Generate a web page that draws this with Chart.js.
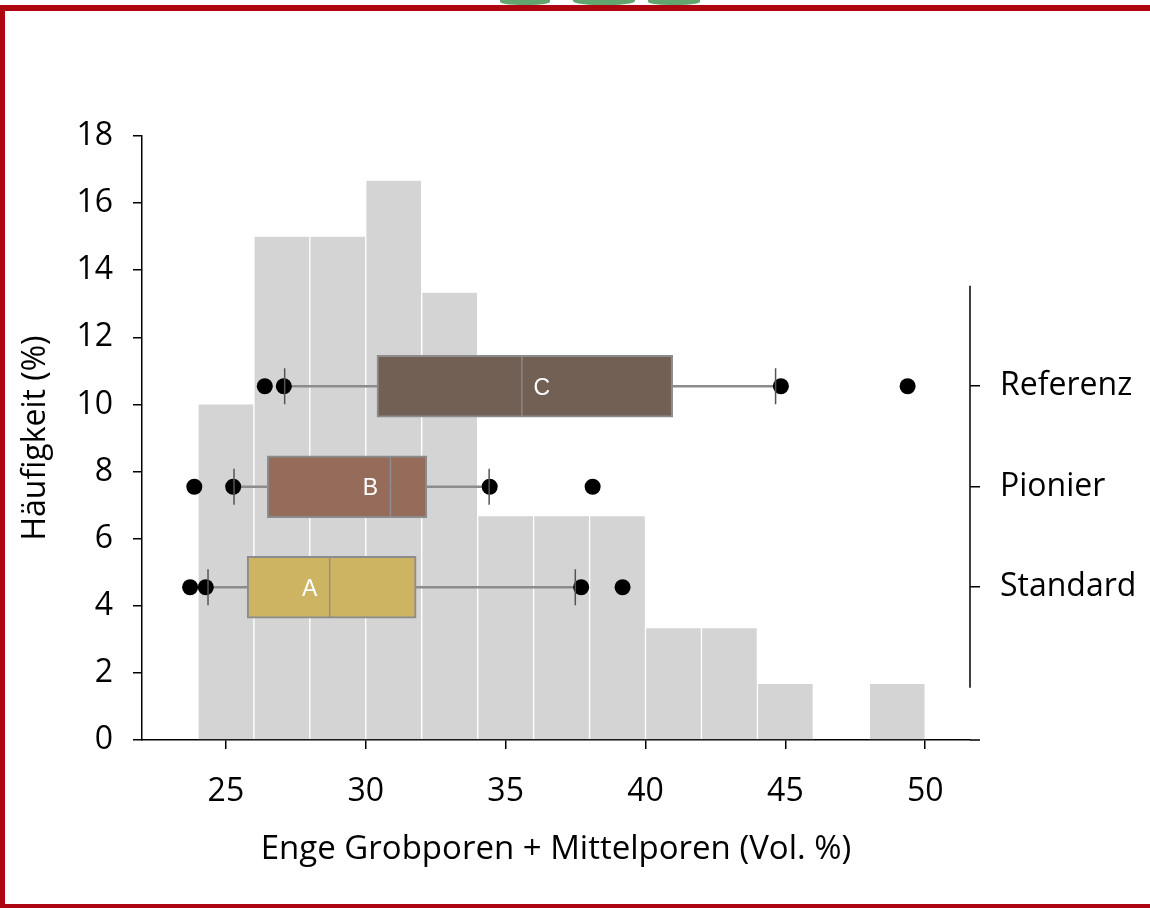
<!DOCTYPE html>
<html>
<head>
<meta charset="utf-8">
<title>Häufigkeit Poren</title>
<script src="https://cdn.jsdelivr.net/npm/chart.js@4.4.1/dist/chart.umd.min.js"></script>
<style>
    html, body { margin: 0; padding: 0; background: #fff; }
    #wrap { position: relative; width: 1150px; height: 908px; overflow: hidden; }
    #poreChart { position: absolute; left: 0; top: 0; }
    .frame { position: absolute; background: #ad0611; pointer-events: none; }
    .leaf { position: absolute; background: #63a56f; border-radius: 40%; pointer-events: none; }
</style>
</head>
<body>
<div id="wrap">
    <canvas id="poreChart" width="1150" height="908"></canvas>
    <!-- bits of the picture that sit above the red frame -->
    <div class="leaf" style="left:500px; top:-4px; width:50px; height:9px;"></div>
    <div class="leaf" style="left:573px; top:-5px; width:62px; height:10px;"></div>
    <div class="leaf" style="left:648px; top:-4px; width:52px; height:9px;"></div>
    <!-- red frame -->
    <div class="frame" style="left:0; top:5px; width:1150px; height:6px;"></div>
    <div class="frame" style="left:0; top:5px; width:5px; height:903px;"></div>
    <div class="frame" style="left:0; top:904px; width:1150px; height:4px;"></div>
</div>

<script>
// ============================================
// DATA
// ============================================

// Histogram: bin centres (2 %-wide bins) and relative frequency (%)
const binCenters = [25, 27, 29, 31, 33, 35, 37, 39, 41, 43, 45, 47, 49];
const binFreq = [10, 15, 15, 16.67, 13.33, 6.67, 6.67, 6.67, 3.33, 3.33, 1.67, 0, 1.67];

// Boxplots, bottom to top
const groups = ['Standard', 'Pionier', 'Referenz'];
const groupLetters = ['A', 'B', 'C'];
const whiskerLow = [24.36, 25.29, 27.1];
const q1 = [25.76, 26.48, 30.40];
const median = [28.71, 30.88, 35.58];
const q3 = [31.80, 32.18, 40.97];
const whiskerHigh = [37.49, 34.41, 44.65];
const outliers = [
    [23.72, 24.28, 37.70, 39.18],
    [23.87, 25.26, 34.43, 38.11],
    [26.39, 27.07, 44.84, 49.37]
];

const xTicks = [25, 30, 35, 40, 45, 50];
const yTicks = [0, 2, 4, 6, 8, 10, 12, 14, 16, 18];

// ============================================
// STYLE
// ============================================

const FONT = '"Open Sans", "Noto Sans", sans-serif';
const boxColors = ['#ccb462', '#956c5a', '#736055'];
const boxEdge = '#8c8c8c';
const letterSide = [-1, -1, 1]; // letter left or right of the median

// group letters inside the boxes + the short group axis line
const boxDecor = {
    id: 'boxDecor',
    afterDraw(chart) {
        const ctx = chart.ctx;
        const xs = chart.scales.xBox;
        const ys = chart.scales.yBox;
        const area = chart.chartArea;

        ctx.save();
        ctx.strokeStyle = '#000';
        ctx.lineWidth = 1.5;
        ctx.beginPath();
        ctx.moveTo(ys.left, ys.getPixelForValue(0));
        ctx.lineTo(ys.left, ys.getPixelForValue(groups.length + 1));
        // x axis runs a little past the group axis
        ctx.moveTo(area.right, area.bottom);
        ctx.lineTo(area.right + 10, area.bottom);
        ctx.stroke();

        ctx.fillStyle = '#fff';
        ctx.font = '23px "Liberation Sans", Arial, sans-serif';
        ctx.textAlign = 'center';
        ctx.textBaseline = 'middle';
        groupLetters.forEach((letter, i) => {
            const px = xs.getPixelForValue(median[i]) + letterSide[i] * 20;
            const py = ys.getPixelForValue(i + 1) + 2;
            ctx.fillText(letter, px, py);
        });
        ctx.restore();
    }
};

const axisGrid = (len) => ({
    display: true,
    offset: false,
    drawOnChartArea: false,
    drawTicks: true,
    tickLength: len,
    color: '#000',
    lineWidth: 1.5
});

// ============================================
// CHART
// ============================================

function initPoreChart() {
    const ctx = document.getElementById('poreChart');
    if (!ctx) return;

    const xMin = 22, xMax = 51.6;

    const histData = binCenters.map((c, i) => ({ x: c, y: binFreq[i] }));
    const whiskerData = groups.map((g, i) => ({ y: i + 1, x: [whiskerLow[i], whiskerHigh[i]] }));
    const lowerHalf = groups.map((g, i) => ({ y: i + 1, x: [q1[i], median[i]] }));
    const upperHalf = groups.map((g, i) => ({ y: i + 1, x: [median[i], q3[i]] }));
    const capData = [];
    groups.forEach((g, i) => {
        capData.push({ x: whiskerLow[i], y: i + 1 });
        capData.push({ x: whiskerHigh[i], y: i + 1 });
    });
    const outlierData = [];
    outliers.forEach((vals, i) => vals.forEach(v => outlierData.push({ x: v, y: i + 1 })));

    new Chart(ctx, {
        type: 'bar',
        data: {
            datasets: [
                {
                    label: 'Häufigkeit',
                    data: histData,
                    xAxisID: 'x',
                    yAxisID: 'y',
                    backgroundColor: '#d4d4d4',
                    borderColor: '#ffffff',
                    borderWidth: { left: 1, right: 1, top: 0, bottom: 0 },
                    borderSkipped: false,
                    barPercentage: 1,
                    categoryPercentage: 1,
                    grouped: false,
                    order: 5
                },
                {
                    label: 'Whisker',
                    data: whiskerData,
                    indexAxis: 'y',
                    xAxisID: 'xBox',
                    yAxisID: 'yBox',
                    backgroundColor: boxEdge,
                    borderWidth: 0,
                    barThickness: 2,
                    grouped: false,
                    order: 4
                },
                {
                    label: 'Q1-Median',
                    data: lowerHalf,
                    indexAxis: 'y',
                    xAxisID: 'xBox',
                    yAxisID: 'yBox',
                    backgroundColor: boxColors,
                    borderColor: boxEdge,
                    borderWidth: { left: 2, right: 1, top: 2, bottom: 2 },
                    borderSkipped: false,
                    barThickness: 62,
                    grouped: false,
                    order: 3
                },
                {
                    label: 'Median-Q3',
                    data: upperHalf,
                    indexAxis: 'y',
                    xAxisID: 'xBox',
                    yAxisID: 'yBox',
                    backgroundColor: boxColors,
                    borderColor: boxEdge,
                    borderWidth: { left: 1, right: 2, top: 2, bottom: 2 },
                    borderSkipped: false,
                    barThickness: 62,
                    grouped: false,
                    order: 3
                },
                {
                    type: 'scatter',
                    label: 'Werte',
                    data: outlierData,
                    xAxisID: 'xBox',
                    yAxisID: 'yBox',
                    pointRadius: 8,
                    pointBackgroundColor: '#000',
                    pointBorderWidth: 0,
                    order: 2
                },
                {
                    type: 'scatter',
                    label: 'Whisker-Enden',
                    data: capData,
                    xAxisID: 'xBox',
                    yAxisID: 'yBox',
                    pointStyle: 'line',
                    rotation: 90,
                    pointRadius: 18,
                    pointBorderColor: '#555',
                    pointBorderWidth: 1.5,
                    order: 1
                }
            ]
        },
        options: {
            responsive: false,
            animation: false,
            devicePixelRatio: 1,
            layout: {
                padding: { top: 136, right: 0, bottom: 38, left: 0 }
            },
            plugins: {
                legend: { display: false },
                tooltip: { enabled: false }
            },
            scales: {
                x: {
                    type: 'linear',
                    position: 'bottom',
                    offset: false,
                    min: xMin,
                    max: xMax,
                    afterFit: s => { s.height = 130; },
                    afterBuildTicks: s => { s.ticks = xTicks.map(v => ({ value: v })); },
                    border: { display: true, color: '#000', width: 1.5 },
                    grid: axisGrid(9),
                    ticks: {
                        color: '#000',
                        padding: 24,
                        font: { family: FONT, size: 32 }
                    },
                    title: {
                        display: true,
                        text: 'Enge Grobporen + Mittelporen (Vol. %)',
                        color: '#000',
                        padding: { top: 0, bottom: 1 },
                        font: { family: FONT, size: 33 }
                    }
                },
                y: {
                    type: 'linear',
                    position: 'left',
                    offset: false,
                    min: 0,
                    max: 18,
                    afterFit: s => { s.width = 142; },
                    afterBuildTicks: s => { s.ticks = yTicks.map(v => ({ value: v })); },
                    border: { display: true, color: '#000', width: 1.5 },
                    grid: axisGrid(9),
                    ticks: {
                        color: '#000',
                        padding: 20,
                        font: { family: FONT, size: 32 }
                    },
                    title: {
                        display: true,
                        text: 'Häufigkeit (%)',
                        color: '#000',
                        padding: { top: 17, bottom: 0 },
                        font: { family: FONT, size: 32 }
                    }
                },
                xBox: {
                    type: 'linear',
                    display: false,
                    offset: false,
                    grid: { offset: false },
                    min: xMin,
                    max: xMax
                },
                yBox: {
                    type: 'linear',
                    position: 'right',
                    offset: false,
                    min: -0.52,
                    max: 5.49,
                    afterFit: s => { s.width = 180; },
                    afterBuildTicks: s => { s.ticks = groups.map((g, i) => ({ value: i + 1 })); },
                    border: { display: false },
                    grid: axisGrid(10),
                    ticks: {
                        color: '#000',
                        padding: 20,
                        font: { family: FONT, size: 32 },
                        callback: v => groups[v - 1]
                    }
                }
            }
        },
        plugins: [boxDecor]
    });
}

document.addEventListener('DOMContentLoaded', () => {
    if (typeof Chart !== 'undefined') {
        initPoreChart();
    } else {
        console.error('Chart.js not loaded');
    }
});
</script>
</body>
</html>
